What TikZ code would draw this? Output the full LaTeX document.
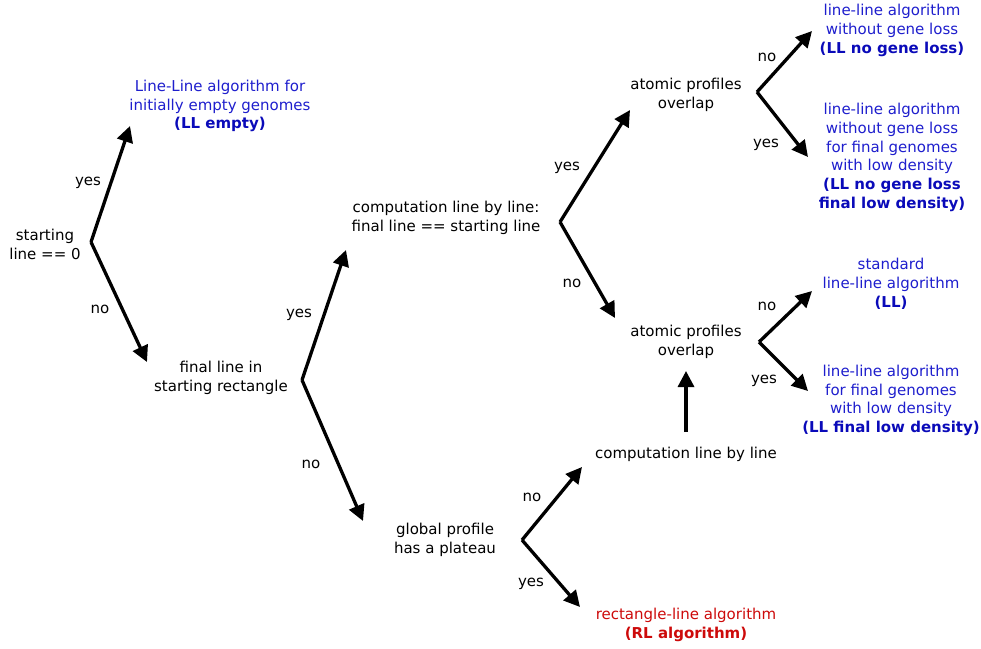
\documentclass[tikz,border=0pt]{standalone}
\usepackage{fontspec}
\setmainfont{DejaVu Sans}
\usetikzlibrary{arrows.meta,positioning}
\definecolor{algblue}{RGB}{30,30,205}
\definecolor{algbold}{RGB}{10,10,185}
\definecolor{algred}{RGB}{205,10,10}
\tikzset{
  txt/.style={align=center, inner sep=0pt, font=\fontsize{15}{18.8}\selectfont},
  algo/.style={txt, text=algblue},
  branch/.style={line width=3.3pt, -{Triangle[length=16pt,width=16pt]}}
}
\newcommand{\algname}[1]{{\bfseries\color{algbold}#1}}

\begin{document}
\begin{tikzpicture}[x=1pt,y=-1pt]
\useasboundingbox (0,0) rectangle (981,648);

% Questions
\node[txt] (start) at (45,244.5) {starting\\line == 0};
\node[txt] (finalrect) at (221,378) {final line in\\starting rectangle};
\node[txt] (plateau) at (445,540) {global profile\\has a plateau};
\node[txt] (compfinal) at (446,218) {computation line by line:\\final line == starting line};
\node[txt] (comp) at (686,454) {computation line by line};
\node[txt] (overlapA) at (686,94.5) {atomic profiles\\overlap};
\node[txt] (overlapB) at (686,342) {atomic profiles\\overlap};

% Algorithms
\node[algo] (llempty) at (220,106) {Line-Line algorithm for\\initially empty genomes\\\algname{(LL empty)}};
\node[algo] (llnogl) at (892,30.5) {line-line algorithm\\without gene loss\\\algname{(LL no gene loss)}};
\node[algo] (llnoglfld) at (892,157.5) {line-line algorithm\\without gene loss\\for final genomes\\with low density\\\algname{(LL no gene loss}\\\algname{final low density)}};
\node[algo] (ll) at (891,283.5) {standard\\line-line algorithm\\\algname{(LL)}};
\node[algo] (llfld) at (891,400.5) {line-line algorithm\\for final genomes\\with low density\\\algname{(LL final low density)}};
\node[txt, text=algred] (rl) at (686,625) {rectangle-line algorithm\\{\bfseries\color{algred}(RL algorithm)}};

% Branch points and arrow tips
\coordinate (s) at (91,242);
\coordinate (sY) at (130,126);
\coordinate (sN) at (147,362);
\coordinate (f) at (302,380);
\coordinate (fY) at (346,250);
\coordinate (fN) at (363,521);
\coordinate (c) at (560,222);
\coordinate (cY) at (630,110);
\coordinate (cN) at (615,318);
\coordinate (oa) at (757,92);
\coordinate (oaN) at (812,31);
\coordinate (oaY) at (808,157);
\coordinate (ob) at (759,342);
\coordinate (obN) at (812,291);
\coordinate (obY) at (808,391);
\coordinate (p) at (522,540);
\coordinate (pN) at (582,467);
\coordinate (pY) at (580,607);
\coordinate (up0) at (686,432);
\coordinate (up1) at (686,371);

\draw[branch] (s) -- (sY);
\draw[branch] (s) -- (sN);
\draw[branch] (f) -- (fY);
\draw[branch] (f) -- (fN);
\draw[branch] (c) -- (cY);
\draw[branch] (c) -- (cN);
\draw[branch] (oa) -- (oaN);
\draw[branch] (oa) -- (oaY);
\draw[branch] (ob) -- (obN);
\draw[branch] (ob) -- (obY);
\draw[branch] (p) -- (pN);
\draw[branch] (p) -- (pY);
\draw[branch] (up0) -- (up1);

% yes / no
\node[txt] (sYl) at (88,183) {yes};
\node[txt] (sNl) at (100,309) {no};
\node[txt] (fYl) at (299,315) {yes};
\node[txt] (fNl) at (311,464) {no};
\node[txt] (cYl) at (567,168) {yes};
\node[txt] (cNl) at (572,283) {no};
\node[txt] (oaNl) at (767,57) {no};
\node[txt] (oaYl) at (766,145) {yes};
\node[txt] (obNl) at (767,306) {no};
\node[txt] (obYl) at (764,381) {yes};
\node[txt] (pNl) at (532,497) {no};
\node[txt] (pYl) at (531,584) {yes};
\end{tikzpicture}
\end{document}
